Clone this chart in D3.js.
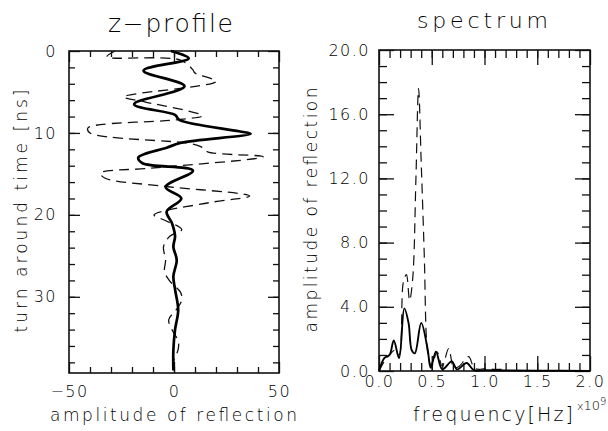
<!DOCTYPE html>
<html>
<head>
<meta charset="utf-8">
<script src="https://cdn.jsdelivr.net/npm/d3@7"></script>
<style>
  body { margin: 0; background: #fff; }
  text { font-family: "DejaVu Sans", sans-serif; font-weight: 200; fill: #000; }
</style>
</head>
<body>
<script>
// z-profile: time [ns] vs amplitude
const solidTime = [0, 0.9, 2.4, 4.3, 6.5, 7.8, 8.4, 9.8, 10.1, 11.2, 11.8, 13.0, 13.7, 14.6, 16.6, 18.0, 19.6, 21.0, 22.6, 23.9, 25.5, 27.5, 29.1, 31.6, 34.0, 36.5, 39.0];
const solidAmp = [-1.5, 7, -14.5, 5, -19, 0.5, 2.5, 31, 36.5, 3.5, -3.5, -17, -15, 9, -4, 3.5, -3.5, -1, 0.5, -0.3, 1.3, -0.3, 0.5, 2, 0.5, -0.3, -0.3];

const dashedTime = [0, 0.7, 1.1, 2.3, 2.7, 3.7, 5.6, 6.2, 7.9, 8.4, 9.4, 10.0, 11.3, 11.7, 12.3, 12.9, 14.3, 14.9, 15.5, 16.5, 17.7, 18.5, 20.0, 20.6, 21.8, 22.6, 23.9, 25.5, 26.9, 28.1, 29.4, 30.4, 31.6, 32.8, 34.0, 35.4, 36.4, 38.0, 39.0];
const dashedAmp = [-28, -32, 3, 9, 10, 20, -24, -14, 13.5, 1, -41, -40, 8, 13, 16, 42.5, -11, -35, -33, -5, 36, 17, -9.5, -5, 3.7, -2, -5, -4, -4.5, -2, 3, 3.7, 1, -2.5, -1, 2, 2, -0.3, 0];

// spectrum: frequency [GHz] vs amplitude
const specSolidFreq = [0.0, 0.05, 0.10, 0.14, 0.19, 0.24, 0.28, 0.31, 0.34, 0.40, 0.46, 0.49, 0.54, 0.60, 0.69, 0.74, 0.83, 0.90, 1.0, 1.2, 1.5, 2.0];
const specSolidAmp = [0, 0.8, 1.0, 1.9, 0.8, 3.9, 3.0, 1.3, 1.1, 3.0, 1.4, 0.2, 1.2, 0.1, 0.6, 0.1, 0.5, 0.05, 0.05, 0.03, 0.02, 0];

const specDashedFreq = [0.0, 0.05, 0.10, 0.15, 0.19, 0.23, 0.26, 0.29, 0.32, 0.35, 0.375, 0.40, 0.43, 0.45, 0.47, 0.50, 0.55, 0.60, 0.66, 0.71, 0.76, 0.85, 0.90, 0.95, 1.0, 1.1, 1.2];
const specDashedAmp = [0, 0.6, 1.0, 1.3, 1.0, 5.5, 6.0, 4.4, 5.8, 12, 17.6, 13, 7, 2, 0.8, 0.3, 1.2, 0.3, 1.4, 0.2, 0.3, 0.9, 0.2, 0.1, 0.15, 0.1, 0.1];

const zTicks = [0, 10, 20, 30];
const ampTicks = [-50, 0, 50];
const freqTicks = [0, 0.5, 1.0, 1.5, 2.0];
const specTicks = [0, 4, 8, 12, 16, 20];

const width = 608, height = 431;
const svg = d3.select("body").append("svg")
    .attr("width", width)
    .attr("height", height);

// left panel box
const L = {left: 69, right: 279, top: 51, bottom: 373};
const xL = d3.scaleLinear().domain([-50, 50]).range([L.left, L.right]);
const yL = d3.scaleLinear().domain([0, 39.3]).range([L.top, L.bottom]);

// right panel box
const R = {left: 379, right: 590, top: 50, bottom: 371};
const xR = d3.scaleLinear().domain([0, 2]).range([R.left, R.right]);
const yR = d3.scaleLinear().domain([0, 20]).range([R.bottom, R.top]);

function ticksInside(box, x, y, xMaj, xMin, yMaj, yMin, majLen, minLen) {
    const g = svg.append("g").attr("class", "frame");
    [[xMin, minLen], [xMaj, majLen]].forEach(([vals, len]) => {
        g.append("g").attr("transform", `translate(0,${box.bottom})`)
            .call(d3.axisBottom(x).tickValues(vals).tickSize(-len).tickFormat(""));
        g.append("g").attr("transform", `translate(0,${box.top})`)
            .call(d3.axisTop(x).tickValues(vals).tickSize(-len).tickFormat(""));
    });
    [[yMin, minLen], [yMaj, majLen]].forEach(([vals, len]) => {
        g.append("g").attr("transform", `translate(${box.left},0)`)
            .call(d3.axisLeft(y).tickValues(vals).tickSize(-len).tickFormat(""));
        g.append("g").attr("transform", `translate(${box.right},0)`)
            .call(d3.axisRight(y).tickValues(vals).tickSize(-len).tickFormat(""));
    });
    g.selectAll(".domain").remove();
    g.selectAll(".tick line").attr("stroke", "#111").attr("stroke-width", 1.3);
    g.append("rect")
        .attr("x", box.left).attr("y", box.top)
        .attr("width", box.right - box.left).attr("height", box.bottom - box.top)
        .attr("fill", "none").attr("stroke", "#111").attr("stroke-width", 1.6);
}

ticksInside(L, xL, yL, ampTicks, d3.range(-40, 50, 10), zTicks, d3.range(2, 39, 2), 11, 6);
ticksInside(R, xR, yR, freqTicks, d3.range(0.1, 2.0, 0.1), specTicks, d3.range(1, 20, 1), 15, 8);

// tick labels
function labels(axis, tr) {
    const g = svg.append("g").attr("transform", tr).call(axis);
    g.select(".domain").remove();
    g.selectAll("text")
        .attr("font-family", "DejaVu Sans, sans-serif")
        .attr("font-weight", 200)
        .attr("font-size", 16)
        .attr("letter-spacing", 1.5)
        .attr("fill", "#000");
    return g;
}
labels(d3.axisLeft(yL).tickValues(zTicks).tickSize(0).tickPadding(12).tickFormat(d3.format("d")), `translate(${L.left},0)`);
labels(d3.axisBottom(xL).tickValues(ampTicks).tickSize(0).tickPadding(12.5).tickFormat(d3.format("d")), `translate(0,${L.bottom})`);
labels(d3.axisLeft(yR).tickValues(specTicks).tickSize(0).tickPadding(9).tickFormat(d3.format(".1f")), `translate(${R.left},0)`);
labels(d3.axisBottom(xR).tickValues(freqTicks).tickSize(0).tickPadding(5).tickFormat(d3.format(".1f")), `translate(0,${R.bottom})`);

// curves
const lineL = d3.line().curve(d3.curveCatmullRom.alpha(0.5));
const lineR = d3.line().curve(d3.curveCatmullRom.alpha(0.5));

svg.append("path")
    .attr("d", lineL(dashedTime.map((t, i) => [xL(dashedAmp[i]), yL(t)])))
    .attr("fill", "none").attr("stroke", "#111").attr("stroke-width", 1.3)
    .attr("stroke-dasharray", "10,6");
svg.append("path")
    .attr("d", lineL(solidTime.map((t, i) => [xL(solidAmp[i]), yL(t)])))
    .attr("fill", "none").attr("stroke", "#000").attr("stroke-width", 2.7);

svg.append("path")
    .attr("d", lineR(specDashedFreq.map((f, i) => [xR(f), yR(specDashedAmp[i])])))
    .attr("fill", "none").attr("stroke", "#111").attr("stroke-width", 1.2)
    .attr("stroke-dasharray", "10,6");
svg.append("path")
    .attr("d", lineR(specSolidFreq.map((f, i) => [xR(f), yR(specSolidAmp[i])])))
    .attr("fill", "none").attr("stroke", "#000").attr("stroke-width", 1.9);

// titles and axis labels
function txt(s, x, y, size, len, rot) {
    const t = svg.append("text")
        .attr("font-size", size)
        .attr("textLength", len)
        .attr("lengthAdjust", "spacing")
        .text(s);
    if (rot) {
        t.attr("transform", `translate(${x},${y}) rotate(-90)`).attr("text-anchor", "middle");
    } else {
        t.attr("x", x).attr("y", y);
    }
    return t;
}
txt("z\u2212profile", 108, 32, 25, 125);
txt("spectrum", 417, 28, 22, 131);
txt("amplitude of reflection", 50, 421, 17, 247);
txt("turn around time [ns]", 27, 211, 17, 243, true);
txt("amplitude of reflection", 317, 210, 17, 245, true);
txt("frequency[Hz]", 413, 421, 19, 160);

// x10^9 multiplier
const mult = svg.append("text").attr("x", 577).attr("y", 410);
mult.append("tspan").attr("font-size", 11).text("x");
mult.append("tspan").attr("font-size", 13).text("10");
mult.append("tspan").attr("font-size", 10).attr("dy", -5).text("9");
</script>
</body>
</html>
